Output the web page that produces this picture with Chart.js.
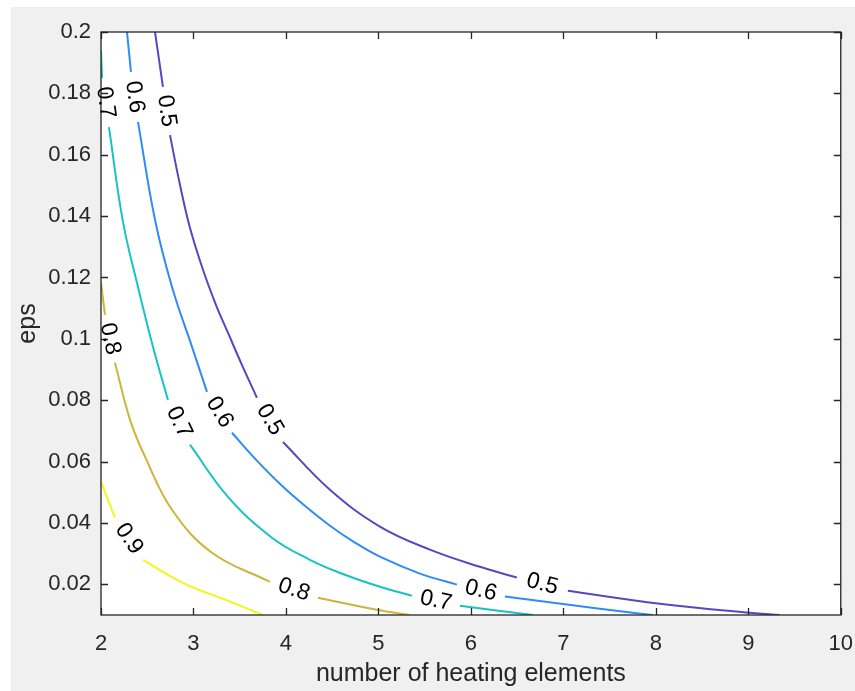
<!DOCTYPE html>
<html>
<head>
<meta charset="utf-8">
<script src="https://cdn.jsdelivr.net/npm/chart.js@4"></script>
<style>
  body { margin: 0; background: #fff; }
  #fig { position: absolute; left: 11px; top: 7px; width: 844px; height: 684px; background: #f0f0f0; }
</style>
</head>
<body>
<div id="fig"><canvas id="myChart" width="844" height="684"></canvas></div>
<script>
// contour levels and their colours
const levels = ['0.5', '0.6', '0.7', '0.8', '0.9'];
const levelColors = ['#5B45C2', '#2E8CF6', '#17C3C3', '#CDB53A', '#F5F51A'];

// points (null = gap where the label sits)
const n05 = [2.584, 2.670, null, 2.746, 2.854, 2.962, 3.103, 3.243, 3.373, 3.524, 3.686, null, 3.968, 4.476, 5.016, 5.557, 6.097, 6.497, null, 7.049, 8.043, 9.016, 9.34];
const eps05 = [0.2, 0.1821, null, 0.1664, 0.1502, 0.1362, 0.1225, 0.1111, 0.102, 0.0915, 0.0808, null, 0.0664, 0.0508, 0.0388, 0.0313, 0.0257, 0.0222, null, 0.0179, 0.0137, 0.0107, 0.01];

const n06 = [2.281, 2.324, null, 2.400, 2.584, 2.768, 2.984, 3.146, null, 3.416, 3.686, 3.957, 4.227, 4.476, 4.746, 5.016, 5.449, 5.849, null, 6.368, 7.038, 7.751, 7.97];
const eps06 = [0.2, 0.187, null, 0.1707, 0.1388, 0.1169, 0.0974, 0.0827, null, 0.0694, 0.0603, 0.0521, 0.045, 0.0391, 0.0336, 0.029, 0.0235, 0.0199, null, 0.016, 0.0134, 0.0107, 0.01];

const n07 = [2.0, 2.011, null, 2.086, 2.238, 2.400, 2.562, 2.724, null, 2.962, 3.373, 3.849, 4.259, 4.638, 5.016, 5.362, null, 5.881, 6.67];
const eps07 = [0.194, 0.185, null, 0.169, 0.1381, 0.1169, 0.0974, 0.0801, null, 0.0655, 0.0485, 0.0352, 0.028, 0.0231, 0.0192, 0.0163, null, 0.013, 0.01];

const n08 = [2.0, 2.043, null, 2.151, 2.314, 2.476, 2.768, 3.2, 3.827, null, 4.346, 4.984, 5.34];
const eps08 = [0.1182, 0.1078, null, 0.0922, 0.0736, 0.0616, 0.0443, 0.0303, 0.0208, null, 0.0156, 0.0117, 0.01];

const n09 = [2.0, 2.151, null, 2.454, 2.886, 3.427, 3.75];
const eps09 = [0.0534, 0.0417, null, 0.028, 0.0205, 0.014, 0.01];

// tick values
const xTicks = [2, 3, 4, 5, 6, 7, 8, 9, 10];
const yTicks = [0.02, 0.04, 0.06, 0.08, 0.1, 0.12, 0.14, 0.16, 0.18, 0.2];

const FONT = "'Liberation Sans', Arial, Helvetica, sans-serif";
const INK = '#262626';

function toPoints(xs, ys) {
  return xs.map((x, i) => ({ x: x, y: ys[i] }));
}

const lines = [[n05, eps05], [n06, eps06], [n07, eps07], [n08, eps08], [n09, eps09]];

const datasets = lines.map((l, i) => ({
  label: levels[i],
  data: toPoints(l[0], l[1]),
  borderColor: levelColors[i],
  borderWidth: 2,
  pointRadius: 0,
  spanGaps: false,
  tension: 0.4
}));

// white axes background
const axesBg = {
  id: 'axesBg',
  beforeDatasetsDraw(chart) {
    const { ctx, chartArea: a } = chart;
    ctx.save();
    ctx.fillStyle = '#fff';
    ctx.fillRect(a.left, a.top, a.right - a.left, a.bottom - a.top);
    ctx.restore();
  }
};

// box with inward ticks on all sides, then inline contour labels
const boxAndLabels = {
  id: 'boxAndLabels',
  afterDatasetsDraw(chart) {
    const { ctx, chartArea: a, scales } = chart;
    const tl = 7;
    ctx.save();
    ctx.strokeStyle = INK;
    ctx.lineWidth = 1.3;
    ctx.strokeRect(a.left, a.top, a.right - a.left, a.bottom - a.top);
    ctx.beginPath();
    xTicks.forEach(v => {
      const px = Math.round(scales.x.getPixelForValue(v)) + 0.5;
      ctx.moveTo(px, a.bottom); ctx.lineTo(px, a.bottom - tl);
      ctx.moveTo(px, a.top); ctx.lineTo(px, a.top + tl);
    });
    yTicks.forEach(v => {
      const py = Math.round(scales.y.getPixelForValue(v)) + 0.5;
      ctx.moveTo(a.left, py); ctx.lineTo(a.left + tl, py);
      ctx.moveTo(a.right, py); ctx.lineTo(a.right - tl, py);
    });
    ctx.stroke();

    ctx.fillStyle = '#000';
    ctx.font = '23px ' + FONT;
    ctx.textAlign = 'center';
    ctx.textBaseline = 'middle';
    chart.data.datasets.forEach(ds => {
      const d = ds.data;
      d.forEach((p, i) => {
        if (p.y !== null || i === 0) return;
        const p0 = d[i - 1], p1 = d[i + 1];
        const x0 = scales.x.getPixelForValue(p0.x), y0 = scales.y.getPixelForValue(p0.y);
        const x1 = scales.x.getPixelForValue(p1.x), y1 = scales.y.getPixelForValue(p1.y);
        ctx.save();
        ctx.translate((x0 + x1) / 2, (y0 + y1) / 2);
        ctx.rotate(Math.atan2(y1 - y0, x1 - x0));
        ctx.fillText(ds.label, 0, 0);
        ctx.restore();
      });
    });
    ctx.restore();
  }
};

new Chart('myChart', {
  type: 'line',
  data: { datasets: datasets },
  options: {
    responsive: false,
    animation: false,
    devicePixelRatio: 1,
    layout: { padding: { top: 25, right: 14, left: 0, bottom: 0 } },
    plugins: { legend: { display: false }, tooltip: { enabled: false } },
    scales: {
      x: {
        type: 'linear',
        min: 2,
        max: 10,
        grid: { display: true, drawOnChartArea: false, drawTicks: true, tickLength: 14, color: 'rgba(0,0,0,0)' },
        border: { display: false },
        afterBuildTicks: s => { s.ticks = xTicks.map(v => ({ value: v })); },
        afterFit: s => { s.height = 76; },
        ticks: { color: INK, font: { family: FONT, size: 22 }, padding: 2, maxRotation: 0 },
        title: { display: true, text: 'number of heating elements', color: INK, font: { family: FONT, size: 25 }, padding: { top: 0, bottom: 2 } }
      },
      y: {
        type: 'linear',
        min: 0.01,
        max: 0.2,
        grid: { display: false, drawTicks: false },
        border: { display: false },
        afterBuildTicks: s => { s.ticks = yTicks.map(v => ({ value: v })); },
        afterFit: s => { s.width = 90; },
        ticks: { color: INK, font: { family: FONT, size: 22 }, padding: 10, callback: v => String(+v.toFixed(2)) },
        title: { display: true, text: 'eps', color: INK, font: { family: FONT, size: 25 }, padding: { top: 2, bottom: 0 } }
      }
    }
  },
  plugins: [axesBg, boxAndLabels]
});
</script>
</body>
</html>
